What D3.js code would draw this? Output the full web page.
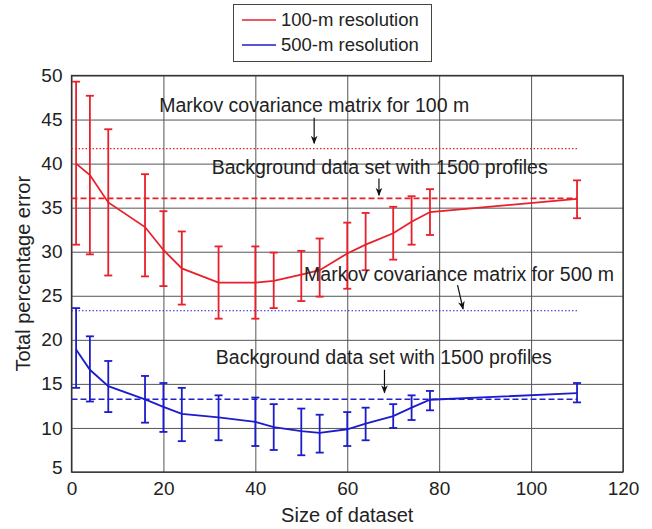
<!doctype html>
<html>
<head>
    <style>
        body { margin: 0; background: #fff; font-family: 'Liberation Sans', Arial, sans-serif; }
        svg { display: block; }
        text { fill: #222; }
        .grid line { stroke: #555; stroke-width: 1; }
        .grid path { stroke-width: 0; }
        .tick text { font-size: 19px; font-family: 'Liberation Sans', Arial, sans-serif; }
        text.note { font-size: 19.5px; }
        text.label { font-size: 20px; }
        text.legend { font-size: 18.5px; }
    </style>
    <script src="https://d3js.org/d3.v7.min.js"></script>
</head>
<body>
<svg width="652" height="529"></svg>
<script>
    // sizes of the data set (x positions of the points)
    const sizes = [1, 4, 8, 16, 20, 24, 32, 40, 44, 50, 54, 60, 64, 70, 74, 78, 110]

    // 100-m resolution: mean and error bar limits
    const red_mean = [40.0, 38.7, 35.6, 32.8, 30.2, 28.1, 26.5, 26.5, 26.7, 27.4, 27.9, 29.8, 30.8, 32.1, 33.4, 34.5, 36.0]
    const red_hi   = [49.3, 47.7, 43.9, 38.8, 34.6, 32.3, 30.6, 30.6, 29.9, 30.1, 31.5, 33.3, 34.4, 35.1, 36.3, 37.1, 38.1]
    const red_lo   = [30.8, 29.7, 27.3, 27.2, 26.1, 24.0, 22.4, 22.4, 23.6, 24.4, 24.9, 25.8, 27.9, 29.1, 30.8, 31.9, 33.8]

    // 500-m resolution
    const blue_mean = [18.9, 16.6, 14.75, 13.25, 12.4, 11.6, 11.2, 10.7, 10.1, 9.65, 9.45, 9.85, 10.5, 11.35, 12.3, 13.2, 13.95]
    const blue_hi   = [23.6, 20.4, 17.6, 15.9, 15.1, 14.55, 13.7, 13.45, 12.7, 12.2, 11.5, 11.8, 12.3, 12.7, 13.7, 14.2, 15.1]
    const blue_lo   = [14.55, 13.0, 11.8, 10.6, 9.55, 8.5, 8.6, 7.95, 7.5, 6.9, 7.2, 7.95, 8.6, 10.0, 10.9, 12.0, 12.9]

    // reference levels
    const ref_levels = [
        {value: 41.7, color: '#e8202a', dash: '1.5 2'},
        {value: 36.05, color: '#e8202a', dash: '6 3'},
        {value: 23.3, color: '#2222cc', dash: '1.5 2'},
        {value: 13.25, color: '#2222cc', dash: '6 3'}
    ]
    const ref_end = 110

    const notes = [
        {text: 'Markov covariance matrix for 100 m', x: 19.1, y: 46.65, ax1: 52.8, ay1: 45.2, ax2: 52.8, ay2: 42.3},
        {text: 'Background data set with 1500 profiles', x: 30.5, y: 39.65, ax1: 66.9, ay1: 38.3, ax2: 66.9, ay2: 36.4},
        {text: 'Markov covariance matrix for 500 m', x: 50.6, y: 27.45, ax1: 84.0, ay1: 26.2, ax2: 85.2, ay2: 23.5},
        {text: 'Background data set with 1500 profiles', x: 31.4, y: 18.0, ax1: 68.1, ay1: 16.6, ax2: 68.1, ay2: 14.0}
    ]

    const xTicks = [0, 20, 40, 60, 80, 100, 120]
    const yTicks = [5, 10, 15, 20, 25, 30, 35, 40, 45, 50]

    const svg = d3.select('svg')

    const pLeft = 71.5, pTop = 75.5, pRight = 623, pBottom = 472
    const width = pRight - pLeft
    const height = pBottom - pTop

    const x = d3.scaleLinear().domain([0, 120]).range([pLeft, pRight])
    const y = d3.scaleLinear().domain([5, 50]).range([pBottom, pTop])

    // grid
    svg.append('g')
        .attr('class', 'grid')
        .attr('transform', `translate(0, ${pBottom})`)
        .call(d3.axisBottom(x).tickValues(xTicks).tickSize(-height).tickFormat(''))
    svg.append('g')
        .attr('class', 'grid')
        .attr('transform', `translate(${pLeft}, 0)`)
        .call(d3.axisLeft(y).tickValues(yTicks).tickSize(-width).tickFormat(''))

    // frame
    svg.append('rect')
        .attr('x', pLeft).attr('y', pTop)
        .attr('width', width).attr('height', height)
        .attr('fill', 'none')
        .attr('stroke', '#333')
        .attr('stroke-width', 1.3)

    // tick labels
    const xAxis = svg.append('g')
        .attr('transform', `translate(0, ${pBottom})`)
        .call(d3.axisBottom(x).tickValues(xTicks).tickSize(0).tickPadding(10))
    xAxis.select('.domain').remove()
    xAxis.selectAll('text').attr('fill', '#222')

    const yAxis = svg.append('g')
        .attr('transform', `translate(${pLeft}, 0)`)
        .call(d3.axisLeft(y).tickValues(yTicks).tickSize(0).tickPadding(9))
    yAxis.select('.domain').remove()
    yAxis.selectAll('text').attr('fill', '#222')
    yAxis.selectAll('.tick').filter(d => d === 5).select('text').attr('dy', '0.1em')

    // reference lines
    svg.selectAll('line.ref')
        .data(ref_levels)
        .enter()
        .append('line')
        .attr('class', 'ref')
        .attr('x1', x(0))
        .attr('x2', x(ref_end))
        .attr('y1', d => y(d.value))
        .attr('y2', d => y(d.value))
        .attr('stroke', d => d.color)
        .attr('stroke-width', d => d.dash === '6 3' ? 1.6 : 1.2)
        .attr('stroke-dasharray', d => d.dash)

    function drawSeries(mean, hi, lo, color) {
        const pts = sizes.map((s, i) => ({s: s, m: mean[i], hi: hi[i], lo: lo[i]}))
        const g = svg.append('g')
        g.selectAll('line.bar')
            .data(pts)
            .enter()
            .append('line')
            .attr('x1', d => x(d.s)).attr('x2', d => x(d.s))
            .attr('y1', d => y(d.hi)).attr('y2', d => y(d.lo))
            .attr('stroke', color).attr('stroke-width', 1.8)
        g.selectAll('line.cap-hi')
            .data(pts)
            .enter()
            .append('line')
            .attr('x1', d => x(d.s) - 4).attr('x2', d => x(d.s) + 4)
            .attr('y1', d => y(d.hi)).attr('y2', d => y(d.hi))
            .attr('stroke', color).attr('stroke-width', 1.8)
        g.selectAll('line.cap-lo')
            .data(pts)
            .enter()
            .append('line')
            .attr('x1', d => x(d.s) - 4).attr('x2', d => x(d.s) + 4)
            .attr('y1', d => y(d.lo)).attr('y2', d => y(d.lo))
            .attr('stroke', color).attr('stroke-width', 1.8)
        g.append('path')
            .datum(pts)
            .attr('fill', 'none')
            .attr('stroke', color)
            .attr('stroke-width', 1.8)
            .attr('d', d3.line().x(d => x(d.s)).y(d => y(d.m)))
    }

    drawSeries(red_mean, red_hi, red_lo, '#e8202a')
    drawSeries(blue_mean, blue_hi, blue_lo, '#1c1ccc')

    // annotations
    svg.append('defs').append('marker')
        .attr('id', 'arrow')
        .attr('viewBox', '0 0 10 10')
        .attr('refX', 9).attr('refY', 5)
        .attr('markerWidth', 7).attr('markerHeight', 9)
        .attr('orient', 'auto')
        .append('path')
        .attr('d', 'M0,1 L10,5 L0,9 L3,5 Z')
        .attr('fill', '#111')

    notes.forEach(n => {
        svg.append('text')
            .attr('class', 'note')
            .attr('x', x(n.x))
            .attr('y', y(n.y))
            .attr('dy', '0.35em')
            .text(n.text)
        svg.append('line')
            .attr('x1', x(n.ax1)).attr('y1', y(n.ay1))
            .attr('x2', x(n.ax2)).attr('y2', y(n.ay2))
            .attr('stroke', '#111')
            .attr('stroke-width', 1.2)
            .attr('marker-end', 'url(#arrow)')
    })

    // axis titles
    svg.append('text')
        .attr('class', 'label')
        .attr('transform', `translate(30, ${(pTop + pBottom) / 2}) rotate(-90)`)
        .attr('text-anchor', 'middle')
        .text('Total percentage error')

    svg.append('text')
        .attr('class', 'label')
        .attr('x', (pLeft + pRight) / 2)
        .attr('y', 522)
        .attr('text-anchor', 'middle')
        .text('Size of dataset')

    // legend
    const legend = svg.append('g')
    legend.append('rect')
        .attr('x', 233.5).attr('y', 4.5)
        .attr('width', 198).attr('height', 57)
        .attr('fill', '#fff')
        .attr('stroke', '#444')
        .attr('stroke-width', 1)
    const legendItems = [
        {name: '100-m resolution', color: '#e8202a'},
        {name: '500-m resolution', color: '#1c1ccc'}
    ]
    legendItems.forEach((d, i) => {
        const yy = 20 + i * 25
        legend.append('line')
            .attr('x1', 242).attr('x2', 276)
            .attr('y1', yy).attr('y2', yy)
            .attr('stroke', d.color).attr('stroke-width', 1.5)
        legend.append('text')
            .attr('class', 'legend')
            .attr('x', 281).attr('y', yy)
            .attr('dy', '0.35em')
            .text(d.name)
    })
</script>
</body>
</html>
